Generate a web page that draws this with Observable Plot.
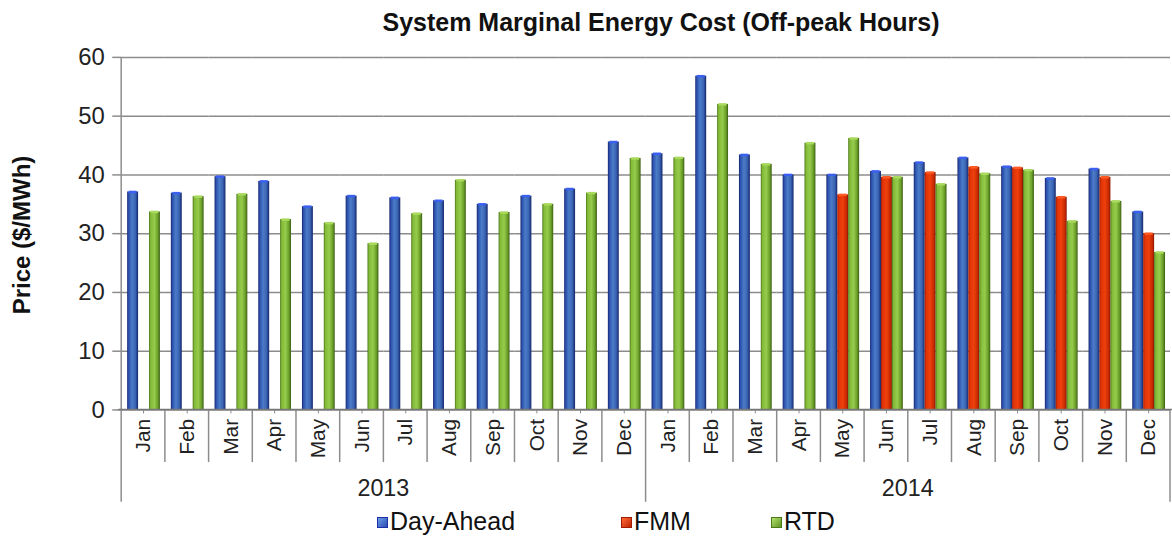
<!DOCTYPE html>
<html><head><meta charset="utf-8">
<script src="https://cdn.jsdelivr.net/npm/d3@7"></script>
<script src="https://cdn.jsdelivr.net/npm/@observablehq/plot@0.6"></script>
<style>
body{margin:0;width:1172px;height:543px;overflow:hidden;background:#fff;font-family:"Liberation Sans",Arial,sans-serif;position:relative;color:#111}
#title{position:absolute;top:7px;left:0;width:1172px;padding-left:150px;box-sizing:border-box;text-align:center;font-weight:bold;font-size:25px;line-height:30px}
#ylabel{position:absolute;left:22px;top:235px;transform:translate(-50%,-50%) rotate(-90deg);font-weight:bold;font-size:24px;white-space:nowrap}
#chart{position:absolute;top:40px;left:0}
.leg{position:absolute;top:506px;font-size:25px;line-height:30px;white-space:nowrap}
.sw{display:inline-block;width:11px;height:11px;margin-right:2px;vertical-align:2px;box-sizing:border-box}
</style></head>
<body>
<div id="title">System Marginal Energy Cost (Off-peak Hours)</div>
<div id="ylabel">Price ($/MWh)</div>
<div id="chart"></div>
<div id="legend"></div>
<script>
const months = ["Jan","Feb","Mar","Apr","May","Jun","Jul","Aug","Sep","Oct","Nov","Dec"];
const years = ["2013","2014"];
const series = ["Day-Ahead","FMM","RTD"];
const dayAhead = [37.1,36.9,39.7,38.9,34.6,36.4,36.1,35.6,35.0,36.4,37.6,45.6, 43.6,56.8,43.4,40.0,40.0,40.6,42.1,42.9,41.4,39.4,41.0,33.7];
const fmm      = [null,null,null,null,null,null,null,null,null,null,null,null, null,null,null,null,36.6,39.6,40.4,41.3,41.2,36.2,39.6,30.0];
const rtd      = [33.7,36.3,36.7,32.4,31.8,28.3,33.4,39.1,33.6,35.0,36.9,42.8, 42.9,52.0,41.8,45.4,46.2,39.6,38.4,40.2,40.8,32.1,35.5,26.8];
const yTicks = [0,10,20,30,40,50,60];

const seriesColors = ["url(#gDA)","url(#gFMM)","url(#gRTD)"];
const capColors = {"Day-Ahead":"#3b5ff0","FMM":"#ff5a24","RTD":"#a9da5e"};
const swatch = {"Day-Ahead":["linear-gradient(135deg,#6d9be8,#2a4fb0)","1px solid #1d2fa8"],
                "FMM":["linear-gradient(135deg,#ff6a3a,#c02400)","1px solid #a01c00"],
                "RTD":["linear-gradient(135deg,#b5e070,#5e9422)","1px solid #4a7a18"]};
const legendLeft = [377, 621, 771];

const keys = years.flatMap(y => months.map(m => y + "-" + m));
const rows = [];
keys.forEach((k, i) => {
  [[series[0], dayAhead[i]], [series[1], fmm[i]], [series[2], rtd[i]]].forEach(([s, v]) => {
    if (v != null) rows.push({key: k, series: s, value: v});
  });
});

const grey = "#8c8c8c";
const chart = Plot.plot({
  width: 1180, height: 468,
  marginLeft: 119, marginRight: 0, marginTop: 17, marginBottom: 96,
  style: {fontFamily: '"Liberation Sans", Arial, sans-serif', fontSize: "24px", color: "#222", background: "transparent", overflow: "visible"},
  fx: {domain: keys, padding: 0, label: null},
  x: {domain: series, paddingInner: 0, paddingOuter: 0.42, axis: null},
  y: {domain: [0, 60], label: null},
  color: {domain: series, range: seriesColors},
  marks: [
    Plot.ruleY(yTicks, {stroke: grey, strokeWidth: 1.5}),
    Plot.barY(rows, {fx: "key", x: "series", y: "value", fill: "series"}),
    Plot.tickY(rows, {fx: "key", x: "series", y: "value", stroke: d => capColors[d.series], strokeWidth: 2.5, inset: 1.5}),
    Plot.axisY({ticks: yTicks, tickSize: 9, tickPadding: 8, stroke: grey, strokeWidth: 1.5, label: null, fontSize: 24}),
    Plot.axisFx({anchor: "bottom", tickRotate: -90, tickSize: 4, tickPadding: 5, tickFormat: k => k.slice(5), fontSize: 21, label: null, stroke: grey})
  ]
});
document.getElementById("chart").appendChild(chart);

// gradients for the bars
const svg = d3.select(chart);
const defs = svg.insert("defs", ":first-child");
const grads = {
  gDA: [[0,"#16246e"],[0.14,"#2c50ad"],[0.45,"#4b7cc8"],[0.75,"#3b64b2"],[0.9,"#22408c"],[1,"#142566"]],
  gFMM: [[0,"#a01a00"],[0.15,"#e03408"],[0.5,"#ef400c"],[0.85,"#c42800"],[1,"#861500"]],
  gRTD: [[0,"#4a7818"],[0.15,"#84ba38"],[0.5,"#96cc4c"],[0.8,"#6ca02a"],[1,"#3c6012"]]
};
for (const [id, stops] of Object.entries(grads)) {
  const g = defs.append("linearGradient").attr("id", id).attr("x1", 0).attr("x2", 1).attr("y1", 0).attr("y2", 0);
  stops.forEach(([o, c]) => g.append("stop").attr("offset", o).attr("stop-color", c));
}

// category separators and year labels, positioned with the fx scale
const fx = chart.scale("fx");
const yS = chart.scale("y");
const step = fx.step || (fx.range[1] - fx.range[0]) / keys.length;
const yBase = yS.apply(0), yTop = yS.apply(60);
const g = svg.append("g").attr("stroke", grey).attr("stroke-width", 1.5);
for (let i = 0; i <= keys.length; i++) {
  const x = i < keys.length ? fx.apply(keys[i]) : fx.apply(keys[keys.length - 1]) + step;
  const isYear = i % months.length === 0;
  g.append("line").attr("x1", x).attr("x2", x)
    .attr("y1", i === 0 ? yTop : yBase).attr("y2", yBase + (isYear ? 93 : 53));
}
svg.append("line").attr("x1", fx.range[0]).attr("x2", fx.range[1]).attr("y1", yBase).attr("y2", yBase)
  .attr("stroke", "#777").attr("stroke-width", 1.5);
years.forEach((yr, j) => {
  const cx = fx.apply(keys[j * months.length]) + step * months.length / 2;
  svg.append("text").attr("x", cx).attr("y", yBase + 81).attr("text-anchor", "middle")
    .attr("dominant-baseline", "middle").attr("font-size", 23.5).attr("fill", "#222").text(yr);
});

// legend
const leg = document.getElementById("legend");
series.forEach((s, i) => {
  const d = document.createElement("div");
  d.className = "leg";
  d.style.left = legendLeft[i] + "px";
  const sw = document.createElement("span");
  sw.className = "sw";
  sw.style.background = swatch[s][0];
  sw.style.border = swatch[s][1];
  d.appendChild(sw);
  d.appendChild(document.createTextNode(s));
  leg.appendChild(d);
});
</script>
</body></html>
